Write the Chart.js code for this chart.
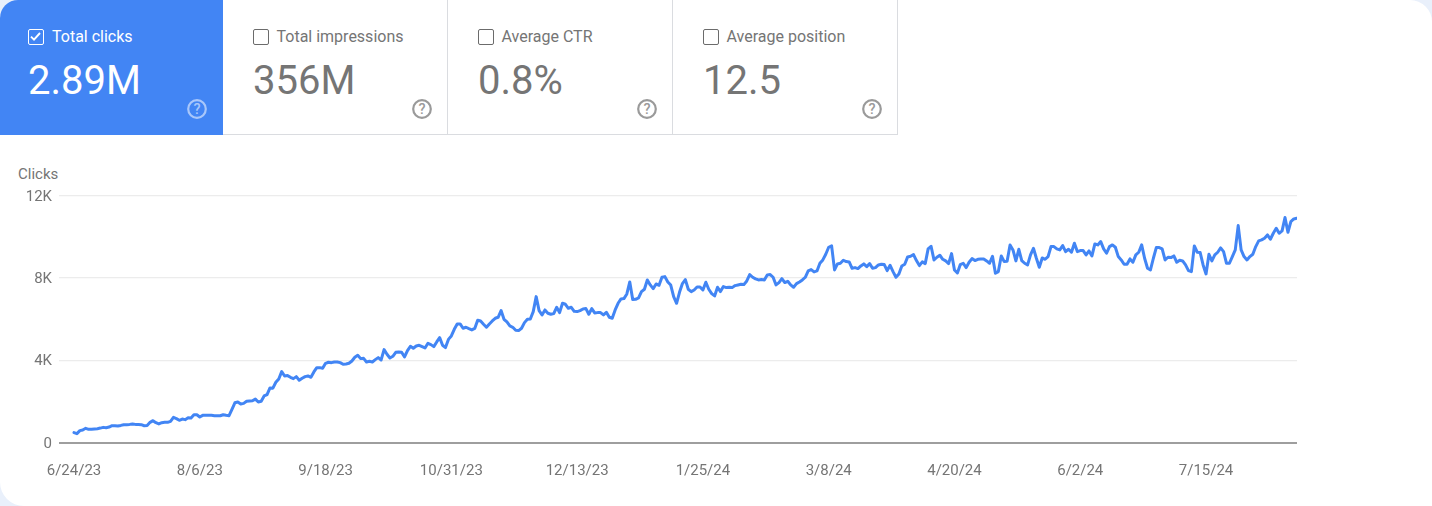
<!DOCTYPE html>
<html>
<head>
<meta charset="utf-8">
<title>Search performance</title>
<script src="https://cdn.jsdelivr.net/npm/chart.js@4"></script>
<style>
    html, body { margin: 0; padding: 0; }
    body { width: 1432px; height: 506px; overflow: hidden; background: #e9f0fb; font-family: Roboto, sans-serif; }
    .page { position: absolute; left: 0; top: 0; width: 1432px; height: 506px; background: #fff; overflow: hidden;
            border-radius: 18px 22px 0 24px; }
    .card { position: absolute; top: 0; width: 225px; height: 135px; box-sizing: border-box; color: #757575;
            border-right: 1px solid #dadce0; border-bottom: 1px solid #dadce0; }
    .card.on { background: #4285f4; color: #fff; border: 0; width: 223px; }
    .box { position: absolute; left: 30px; top: 29px; width: 16px; height: 16px; box-sizing: border-box;
           border: 1.5px solid #6b6b6b; border-radius: 2px; }
    .on .box { left: 28px; border-color: #fff; }
    .name { position: absolute; left: 53.5px; top: 27.5px; font-size: 16px; line-height: 18px; white-space: nowrap; }
    .on .name { left: 52px; }
    .value { position: absolute; left: 30px; top: 58px; font-size: 40px; line-height: 46px; white-space: nowrap; }
    .on .value { left: 28px; }
    .help { position: absolute; left: 189px; top: 99px; width: 20px; height: 20px; }
    .on .help { left: 187px; }
    #clicksTitle { position: absolute; left: 18px; top: 165.5px; font-size: 15px; line-height: 17px; color: #757575; }
</style>
</head>
<body>
<div class="page">
    <div id="cards"></div>
    <div id="clicksTitle">Clicks</div>
    <canvas id="clicksChart" width="1432" height="366" style="position:absolute;left:0;top:140px;width:1432px;height:366px"></canvas>
</div>
<script>
// Scorecards
const cardNames = ['Total clicks', 'Total impressions', 'Average CTR', 'Average position'];
const cardValues = ['2.89M', '356M', '0.8%', '12.5'];

// Axis ticks
const yTicks = [0, 4000, 8000, 12000];
const yTickLabels = ['0', '4K', '8K', '12K'];
const xTickDays = [0, 43, 86, 129, 172, 215, 258, 301, 344, 387];
const xTickLabels = ['6/24/23', '8/6/23', '9/18/23', '10/31/23', '12/13/23', '1/25/24', '3/8/24', '4/20/24', '6/2/24', '7/15/24'];

// Clicks per day, one value per day starting 6/24/23
const dailyClicks = [
    480, 430, 575, 610, 690, 640, 640, 655, 670, 700, 735, 720, 750, 815, 815, 800, 830, 865, 865, 880,
    900, 880, 880, 865, 815, 830, 980, 1060, 960, 900, 960, 980, 980, 1030, 1220, 1160, 1080, 1140, 1110, 1200,
    1190, 1350, 1350, 1240, 1320, 1320, 1320, 1320, 1300, 1300, 1300, 1350, 1320, 1300, 1610, 1930, 1970, 1870, 1900, 2000,
    2015, 2030, 2110, 1970, 2000, 2260, 2325, 2650, 2640, 2925, 3087, 3443, 3232, 3250, 3168, 3103, 3200, 3022, 3120, 3200,
    3232, 3168, 3427, 3637, 3637, 3605, 3848, 3897, 3880, 3913, 3913, 3880, 3800, 3815, 3848, 3960, 4140, 4237, 4075, 4090,
    3913, 3945, 3913, 4026, 4123, 4010, 4512, 4285, 4107, 4188, 4383, 4400, 4383, 4156, 4464, 4674, 4577, 4690, 4723, 4658,
    4593, 4820, 4755, 4658, 4885, 5095, 4723, 4610, 5010, 5176, 5500, 5760, 5760, 5550, 5600, 5533, 5470, 5540, 5940, 5900,
    5743, 5598, 5760, 5905, 6035, 6083, 6408, 5986, 5857, 5662, 5598, 5452, 5436, 5549, 5824, 5986, 6002, 6359, 7088, 6408,
    6197, 6440, 6278, 6229, 6262, 6570, 6310, 6764, 6715, 6521, 6570, 6375, 6359, 6408, 6489, 6505, 6229, 6505, 6294, 6310,
    6310, 6197, 6327, 6083, 6035, 6440, 6764, 6975, 6991, 7218, 7801, 6942, 6958, 7023, 7331, 7444, 7898, 7655, 7477, 7704,
    7639, 8028, 8060, 7801, 7650, 7088, 6764, 7299, 7720, 7914, 7444, 7331, 7412, 7558, 7558, 7412, 7785, 7444, 7234, 7120,
    7542, 7331, 7574, 7525, 7542, 7525, 7623, 7655, 7687, 7671, 7849, 8157, 8028, 7947, 7898, 7914, 7898, 8141, 8157, 8028,
    7655, 7769, 7963, 7769, 7833, 7655, 7542, 7720, 7801, 7898, 8028, 8335, 8400, 8287, 8335, 8708, 8870, 9145, 9486, 9550,
    8384, 8676, 8708, 8854, 8789, 8773, 8465, 8497, 8449, 8578, 8676, 8546, 8690, 8465, 8497, 8627, 8660, 8643, 8352, 8611,
    8303, 8028, 8190, 8578, 8660, 9016, 9048, 9129, 8838, 8595, 8773, 8692, 9405, 9534, 8870, 9000, 9097, 8902, 8822, 8692,
    9178, 8384, 8238, 8643, 8708, 8497, 8757, 8935, 8838, 8902, 8919, 8919, 8822, 8708, 9048, 8222, 8303, 9064, 8789, 8805,
    9599, 9356, 8822, 9388, 8838, 8708, 8627, 9113, 9437, 8951, 8514, 8967, 8902, 9032, 9518, 9518, 9405, 9356, 9567, 9275,
    9388, 9243, 9680, 9275, 9324, 9324, 9113, 9307, 9064, 9648, 9599, 9761, 9405, 9194, 9518, 9599, 9486, 9032, 8870, 8659,
    8659, 8919, 8757, 9113, 9243, 9599, 8951, 8465, 8384, 8951, 9469, 9469, 9405, 8870, 9000, 8984, 9064, 8757, 8854, 8822,
    8627, 8352, 8303, 9550, 9243, 9226, 8627, 8190, 9145, 8822, 9113, 9243, 9453, 9275, 8708, 8708, 9032, 9356, 10539, 9356,
    9032, 8870, 9032, 9145, 9518, 9793, 9842, 9923, 10085, 9875, 10166, 10409, 10166, 10279, 10927, 10214, 10733, 10862, 10895
];

// Build the scorecards
const checkMark = '<svg width="13" height="13" viewBox="0 0 13 13" style="display:block"><path d="M2 6.6l3 3 6-6.6" fill="none" stroke="#fff" stroke-width="1.9"/></svg>';
const cardsEl = document.getElementById('cards');
cardNames.forEach((name, i) => {
    const on = i === 0;
    const ring = on ? '#a9c7fa' : '#9a9a9a';
    const helpIcon = `<svg class="help" viewBox="0 0 20 20"><circle cx="10" cy="10" r="8.8" fill="none" stroke="${ring}" stroke-width="2.2"/>` +
        `<text x="10" y="15.2" text-anchor="middle" font-family="Roboto" font-weight="500" font-size="14.5" fill="${ring}">?</text></svg>`;
    cardsEl.innerHTML += `<div class="card${on ? ' on' : ''}" style="left:${on ? 0 : 223 + (i - 1) * 225}px">` +
        `<span class="box">${on ? checkMark : ''}</span><span class="name">${name}</span>` +
        `<span class="value">${cardValues[i]}</span>${helpIcon}</div>`;
});

// Chart setup
const ctx = document.getElementById('clicksChart').getContext('2d');
const clicksChart = new Chart(ctx, {
    type: 'line',
    data: {
        datasets: [{
            label: 'Clicks',
            data: dailyClicks.map((v, day) => ({ x: day, y: v })),
            borderColor: '#4285f4',
            borderWidth: 3,
            borderJoinStyle: 'round',
            borderCapStyle: 'round',
            pointRadius: 0,
            tension: 0,
            fill: false
        }]
    },
    options: {
        responsive: false,
        animation: false,
        layout: { padding: { top: 55.5, right: 135, left: 0, bottom: 0 } },
        plugins: { legend: { display: false }, tooltip: { enabled: false } },
        scales: {
            x: {
                type: 'linear',
                min: -5.13,
                max: 418.1,
                grid: { display: false },
                border: { display: false },
                afterBuildTicks: (scale) => { scale.ticks = xTickDays.map(d => ({ value: d })); },
                afterFit: (scale) => { scale.height = 63.5; },
                ticks: {
                    autoSkip: false,
                    maxRotation: 0,
                    padding: 12,
                    color: '#757575',
                    font: { family: 'Roboto', size: 15 },
                    callback: (value) => xTickLabels[xTickDays.indexOf(value)]
                }
            },
            y: {
                min: 0,
                max: 12000,
                border: { display: false },
                grid: {
                    drawTicks: false,
                    color: (c) => (c.tick.value === 0 ? '#9e9e9e' : '#ececec'),
                    lineWidth: (c) => (c.tick.value === 0 ? 2 : 1.2)
                },
                afterBuildTicks: (scale) => { scale.ticks = yTicks.map(v => ({ value: v })); },
                afterFit: (scale) => { scale.width = 59; },
                ticks: {
                    padding: 7,
                    labelOffset: 1.5,
                    color: '#757575',
                    font: { family: 'Roboto', size: 15 },
                    callback: (value) => yTickLabels[yTicks.indexOf(value)]
                }
            }
        }
    }
});
</script>
</body>
</html>
